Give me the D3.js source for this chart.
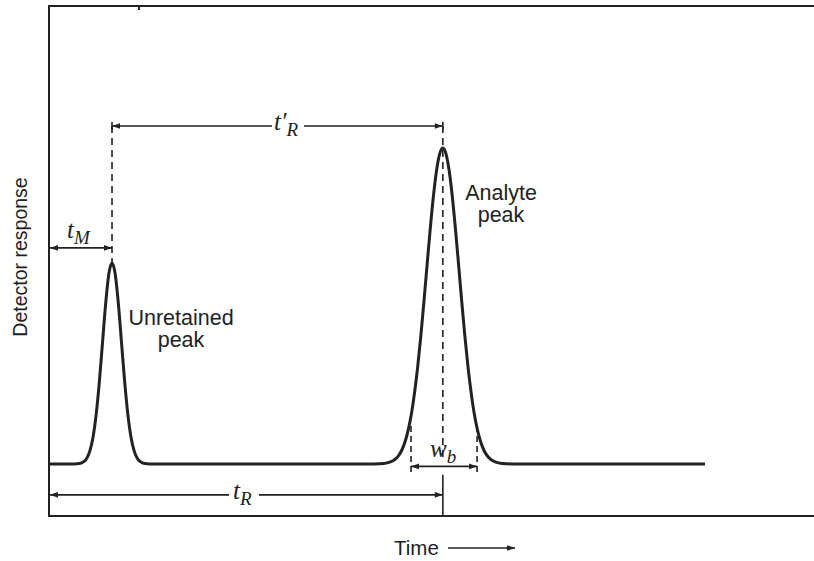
<!DOCTYPE html>
<html><head><meta charset="utf-8">
<script src="https://cdn.jsdelivr.net/npm/d3@7"></script>
<style>body{margin:0;background:#fff}svg{display:block}</style>
</head><body><svg id="c" width="814" height="561"></svg>
<script>
// ---- data (time in arbitrary units, response in % of analyte peak) ----
const times = [0, 0.4, 0.5, 0.55, 0.6, 0.65, 0.7, 0.75, 0.8, 0.85, 0.9, 0.95, 1.0, 1.05, 1.1, 1.15, 1.2, 1.25, 1.3, 1.35, 1.4, 1.45, 1.5, 1.6,
  5.15, 5.25, 5.35, 5.45, 5.5, 5.55, 5.6, 5.65, 5.7, 5.75, 5.8, 5.85, 5.9, 5.95, 6.0, 6.05, 6.1, 6.15, 6.2, 6.25,
  6.3, 6.35, 6.4, 6.45, 6.5, 6.55, 6.6, 6.65, 6.7, 6.75, 6.8, 6.85, 6.9, 6.95, 7.0, 7.05, 7.15, 7.25, 7.35, 10.41];
const responses = [0, 0, 0.2, 0.7, 1.8, 4.2, 8.6, 15.9, 26.2, 38.6, 50.9, 60.2, 63.6, 60.2, 50.9, 38.6, 26.2, 15.9, 8.6, 4.2, 1.8, 0.7, 0.2, 0,
  0, 0.05, 0.25, 0.9, 1.6, 2.7, 4.4, 7.0, 10.7, 15.7, 22.4, 30.6, 40.4, 51.4, 63.0, 74.4, 84.7, 92.9, 98.2, 100,
  98.2, 92.9, 84.7, 74.4, 63.0, 51.4, 40.4, 30.6, 22.4, 15.7, 10.7, 7.0, 4.4, 2.7, 1.6, 0.9, 0.25, 0.05, 0, 0];
const peakLabels = [["Unretained", "peak"], ["Analyte", "peak"]];
const tM = 1.0;            // unretained peak time
const tR = 6.25;           // analyte retention time
const wbBounds = [5.745, 6.793];
const axisTitles = {x: "Time", y: "Detector response"};

// ---- scales ----
const x = d3.scaleLinear().domain([0, 12.14]).range([49, 814]);
const y = d3.scaleLinear().domain([-16.5, 145]).range([516, 6]);
const ink = "#222";

const svg = d3.select("#c");
const defs = svg.append("defs");
defs.append("marker").attr("id", "ah").attr("viewBox", "0 -5 10 10")
  .attr("refX", 10).attr("refY", 0).attr("markerUnits", "userSpaceOnUse")
  .attr("markerWidth", 10).attr("markerHeight", 8).attr("orient", "auto-start-reverse")
  .append("path").attr("d", "M0,-3.5L10,0L0,3.5Z").attr("fill", ink);

// frame (top, left, bottom)
const frame = svg.append("g").attr("stroke", ink).attr("stroke-width", 2).attr("fill", "none");
frame.append("path").attr("d", `M${x.range()[1]},${y(145)}H${x(0)}V${y(-16.5)}H${x.range()[1]}`);
frame.append("line").attr("x1", 139).attr("x2", 139).attr("y1", y(145)).attr("y2", y(145) + 4).attr("stroke-width", 2);

// chromatogram
const line = d3.line().x((d, i) => x(times[i])).y((d, i) => y(responses[i])).curve(d3.curveMonotoneX);
svg.append("path").datum(times).attr("d", line).attr("fill", "none")
  .attr("stroke", ink).attr("stroke-width", 3).attr("stroke-linejoin", "round");

const ann = svg.append("g").attr("stroke", ink).attr("stroke-width", 1.6).attr("fill", "none");
const lvlTRp = 107, lvlTM = 68.4, lvlTR = -9.8, lvlWb = -0.8;

// dashed verticals
ann.append("line").attr("x1", x(tM)).attr("x2", x(tM)).attr("y1", y(lvlTRp)).attr("y2", y(63.6) - 1).attr("stroke-dasharray", "7,5");
ann.append("line").attr("x1", x(tR)).attr("x2", x(tR)).attr("y1", y(lvlTRp)).attr("y2", y(lvlWb) - 8).attr("stroke-dasharray", "7,5");
wbBounds.forEach(b => ann.append("line").attr("x1", x(b)).attr("x2", x(b)).attr("y1", y(12)).attr("y2", y(lvlWb) + 7).attr("stroke-dasharray", "6,4"));
// solid tick for tR
ann.append("line").attr("x1", x(tR)).attr("x2", x(tR)).attr("y1", y(lvlTR) - 20).attr("y2", y(-16.5));

// t_M arrow
ann.append("line").attr("x1", x(0) + 1).attr("x2", x(tM)).attr("y1", y(lvlTM)).attr("y2", y(lvlTM))
  .attr("marker-start", "url(#ah)").attr("marker-end", "url(#ah)");
// t_R' arrow (broken around label)
ann.append("line").attr("x1", x(tM)).attr("x2", 272).attr("y1", y(lvlTRp)).attr("y2", y(lvlTRp)).attr("marker-start", "url(#ah)");
ann.append("line").attr("x1", 304).attr("x2", x(tR)).attr("y1", y(lvlTRp)).attr("y2", y(lvlTRp)).attr("marker-end", "url(#ah)");
[tM, tR].forEach(t => ann.append("line").attr("x1", x(t)).attr("x2", x(t)).attr("y1", y(lvlTRp) - 4).attr("y2", y(lvlTRp) + 4));
// t_R arrow
ann.append("line").attr("x1", x(0) + 1).attr("x2", 229).attr("y1", y(lvlTR)).attr("y2", y(lvlTR)).attr("marker-start", "url(#ah)");
ann.append("line").attr("x1", 259).attr("x2", x(tR)).attr("y1", y(lvlTR)).attr("y2", y(lvlTR)).attr("marker-end", "url(#ah)");
// w_b arrow
ann.append("line").attr("x1", x(wbBounds[0])).attr("x2", x(wbBounds[1])).attr("y1", y(lvlWb)).attr("y2", y(lvlWb))
  .attr("marker-start", "url(#ah)").attr("marker-end", "url(#ah)");

// italic symbol labels
function sym(xp, yp, main, sub) {
  const t = svg.append("text").attr("x", xp).attr("y", yp).attr("fill", ink)
    .attr("font-family", "'Liberation Serif', 'DejaVu Serif', serif").attr("font-style", "italic").attr("font-size", 25);
  t.append("tspan").text(main);
  t.append("tspan").attr("dy", 6).attr("font-size", 19).text(sub);
}
sym(67, 238, "t", "M");
sym(274, 130, "t′", "R");
sym(233, 499, "t", "R");
sym(430, 457, "w", "b");

// peak labels
const sans = "'Liberation Sans', Arial, Helvetica, sans-serif";
const lab = (cx, y0, lines) => {
  const t = svg.append("text").attr("text-anchor", "middle").attr("fill", ink)
    .attr("font-family", sans).attr("font-size", 21.5);
  lines.forEach((s, i) => t.append("tspan").attr("x", cx).attr("y", y0 + i * 22).text(s));
};
lab(181, 325, peakLabels[0]);
lab(501, 200, peakLabels[1]);

// axis titles
svg.append("text").attr("transform", "translate(27,257) rotate(-90)").attr("text-anchor", "middle")
  .attr("fill", ink).attr("font-family", sans).attr("font-size", 19.5).text(axisTitles.y);
svg.append("text").attr("x", 394).attr("y", 555).attr("fill", ink).attr("font-family", sans).attr("font-size", 20.5).text(axisTitles.x);
svg.append("line").attr("x1", 448).attr("x2", 515).attr("y1", 548).attr("y2", 548)
  .attr("stroke", ink).attr("stroke-width", 1.6).attr("marker-end", "url(#ah)");
</script></body></html>
